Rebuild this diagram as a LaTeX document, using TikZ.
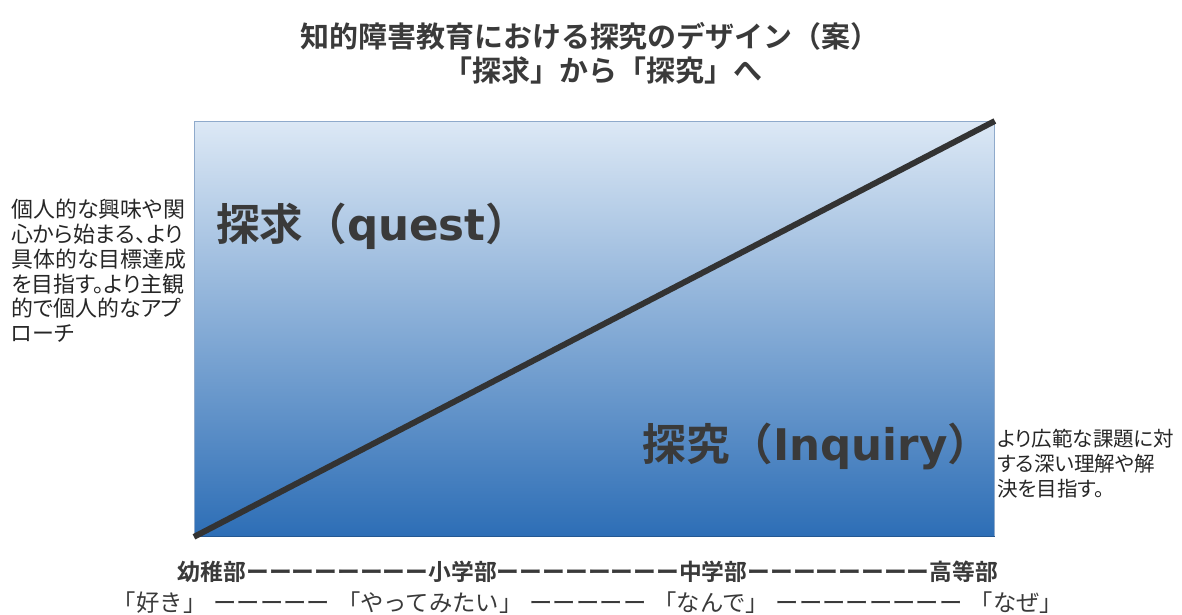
\documentclass[tikz,border=0pt]{standalone}
\usepackage{fontspec}
\setmainfont{Noto Sans CJK JP}
\newfontfamily\jpbold{Noto Sans CJK JP Bold}
\newfontfamily\jppalt[RawFeature=+palt]{Noto Sans CJK JP}
\newfontfamily\latbold{DejaVu Sans Bold}
\definecolor{titlegray}{HTML}{3A3A3A}
\definecolor{boxtop}{HTML}{DCE8F5}
\definecolor{boxbot}{HTML}{2D6EB6}
\definecolor{boxedge}{HTML}{8FAACB}
\definecolor{linegray}{HTML}{333333}
\newcommand{\gp}{\hspace{0.3em}}
\tikzset{
  titletext/.style={text=titlegray, font=\jpbold\fontsize{20.6}{24}\selectfont, inner sep=0pt},
  biglabel/.style={text=titlegray, font=\jpbold\fontsize{31}{35}\selectfont, inner sep=0pt},
  sidetext/.style={text=black!85, align=left, inner sep=0pt},
  stagetext/.style={text=titlegray, font=\jpbold\fontsize{16.2}{19}\selectfont, inner sep=0pt},
  phrasetext/.style={text=titlegray, font=\fontsize{16.6}{19}\selectfont, inner sep=0pt},
}
\begin{document}
\begin{tikzpicture}[x=0.025cm,y=-0.025cm]
\useasboundingbox (0,0) rectangle (1182,615);
\node[titletext] (t1) at (590,36) {知的障害教育における探究のデザイン（案）};
\node[titletext] (t2) at (603,70) {「探求」から「探究」へ};
\node[draw=boxedge, line width=0.6pt, top color=boxtop, bottom color=boxbot,
      minimum width=800*0.025cm, minimum height=415*0.025cm, inner sep=0pt, anchor=north west] (box) at (194,121) {};
\draw[boxbot!80!black, line width=0.8pt] (box.south west) -- (box.south east);
\draw[linegray, line width=4.2pt] (box.south west) -- (box.north east);
\node[biglabel, anchor=west] (quest) at (216,226) {探求（{\latbold quest}）};
\node[biglabel] (inq) at (817,446) {探究（{\latbold Inquiry}）};
\node[sidetext, anchor=north west, font=\jppalt\fontsize{15.6}{17.6}\selectfont] (lt) at (11,199) {個人的な興味や関\\心から始まる、より\\具体的な目標達成\\を目指す。より主観\\的で個人的なアプ\\ローチ};
\node[sidetext, anchor=north west, font=\jppalt\fontsize{14.6}{17.8}\selectfont] (rt) at (997,429) {より広範な課題に対\\する深い理解や解\\決を目指す。};
\node[stagetext] (stages) at (588,572) {幼稚部ーーーーーーーー小学部ーーーーーーーー中学部ーーーーーーーー高等部};
\node[phrasetext] (phrases) at (588,603) {「好き」\gp ーーーーー\gp 「やってみたい」\gp ーーーーー\gp 「なんで」\gp ーーーーーーーー\gp 「なぜ」};
\end{tikzpicture}
\end{document}
